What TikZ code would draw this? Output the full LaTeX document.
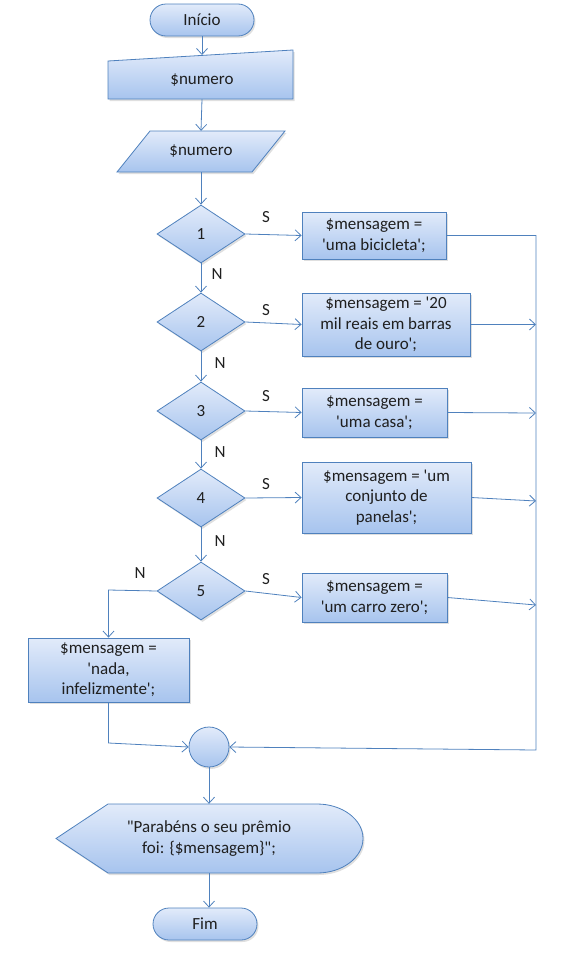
\documentclass[tikz,border=0pt]{standalone}
\usepackage{fontspec}
\newfontfamily\calfont{Carlito}
\usetikzlibrary{arrows.meta,shapes.geometric,shadows}
\definecolor{edge}{HTML}{4F81BD}
\definecolor{topc}{HTML}{E2EBFA}
\definecolor{botc}{HTML}{A7C4EE}
\definecolor{txt}{HTML}{1F1F1F}
\begin{document}
\begin{tikzpicture}[x=1pt,y=-1pt,
  every node/.style={font=\calfont\fontsize{17}{20.5}\selectfont, text=txt},
  shp/.style={draw=edge, line width=0.8pt, top color=topc, bottom color=botc,
    drop shadow={opacity=0.25,shadow xshift=1.5pt,shadow yshift=-2pt}},
  proc/.style={shp, rectangle, align=center, inner sep=0pt},
  dec/.style={shp, diamond, inner sep=0pt, minimum width=88pt, minimum height=58pt},
  term/.style={shp, rectangle, rounded corners=16pt, minimum width=104pt, minimum height=32pt, inner sep=0pt},
  ln/.style={draw=edge, line width=0.8pt},
  arr/.style={ln, -{Straight Barb[length=6pt,width=11pt]}},
  lab/.style={inner sep=0pt},
  ghost/.style={inner sep=0pt, align=center},
]
\useasboundingbox (0,0) rectangle (570,972);

% terminator
\node[term] (start) at (202,20) {Início};

% manual input
\path[shp] (108,61) -- (293,50) -- (293,99) -- (108,99) -- cycle;
\node[ghost, minimum width=185pt, minimum height=38pt] (in) at (202,80) {\$numero};
\coordinate (inTop) at (202,55);

% parallelogram
\path[shp] (150,131) -- (285,131) -- (252,172) -- (117,172) -- cycle;
\node[ghost, minimum width=100pt, minimum height=41pt] (par) at (201,151.5) {\$numero};

% decisions
\node[dec] (d1) at (201,234) {1};
\node[dec] (d2) at (201,322) {2};
\node[dec] (d3) at (201,411) {3};
\node[dec] (d4) at (201,498) {4};
\node[dec] (d5) at (201,591) {5};

% processes
\node[proc, minimum width=144pt, minimum height=47pt] (b1) at (374,235.5) {\$mensagem =\\'uma bicicleta';};
\node[proc, minimum width=168pt, minimum height=63pt] (b2) at (386,324.5) {\$mensagem = '20\\mil reais em barras\\de ouro';};
\node[proc, minimum width=145pt, minimum height=49pt] (b3) at (374.5,412.5) {\$mensagem =\\'uma casa';};
\node[proc, minimum width=169pt, minimum height=71pt] (b4) at (386.5,497.5) {\$mensagem = 'um\\conjunto de\\panelas';};
\node[proc, minimum width=145pt, minimum height=49pt] (b5) at (374.5,597.5) {\$mensagem =\\'um carro zero';};
\node[proc, minimum width=161pt, minimum height=64pt] (b6) at (108.5,670) {\$mensagem =\\'nada,\\infelizmente';};

% connector circle
\node[shp, circle, minimum size=40pt, inner sep=0pt] (c) at (209,747) {};

% display
\path[shp] (56,838.5) -- (108,804) -- (317,804) arc[start angle=-90, end angle=90, x radius=46, y radius=34.5] -- (108,873) -- cycle;
\node[ghost, minimum width=200pt, minimum height=69pt] (disp) at (209,838.5) {"Parabéns o seu prêmio\\foi: \{\$mensagem\}";};

% end
\node[term] (fim) at (205,924) {Fim};

% coordinates
\coordinate (rTop) at (536,235.5);
\coordinate (r2) at (536,324.5);
\coordinate (r3) at (536,413);
\coordinate (r4) at (536,501);
\coordinate (r5) at (536,605);
\coordinate (rBot) at (536,750);
\coordinate (lTop) at (108.5,590);
\coordinate (lBot) at (108.5,743);

% main flow
\draw[arr] (start.south) -- (inTop);
\draw[arr] (in.south) -- (par.north);
\draw[arr] (par.south) -- (d1.north);
\draw[arr] (d1.south) -- (d2.north);
\draw[arr] (d2.south) -- (d3.north);
\draw[arr] (d3.south) -- (d4.north);
\draw[arr] (d4.south) -- (d5.north);

\draw[arr] (d1.east) -- (b1.west);
\draw[arr] (d2.east) -- (b2.west);
\draw[arr] (d3.east) -- (b3.west);
\draw[arr] (d4.east) -- (b4.west);
\draw[arr] (d5.east) -- (b5.west);

\draw[arr] (b1.east) -- (rTop) -- (rBot) -- (c.east);
\draw[arr] (b2.east) -- (r2);
\draw[arr] (b3.east) -- (r3);
\draw[arr] (b4.east) -- (r4);
\draw[arr] (b5.east) -- (r5);

\draw[arr] (d5.west) -- (lTop) -- (b6.north);
\draw[arr] (b6.south) -- (lBot) -- (c.west);

\draw[arr] (c.south) -- (c.south |- disp.north);
\draw[arr] (c.south |- disp.south) -- (c.south |- fim.north);

% labels
\node[lab] (s1) at (266,217) {S};
\node[lab] (s2) at (266,310) {S};
\node[lab] (s3) at (266,396) {S};
\node[lab] (s4) at (266,484) {S};
\node[lab] (s5) at (266,579) {S};
\node[lab] (n1) at (217,274) {N};
\node[lab] (n2) at (220,363) {N};
\node[lab] (n3) at (220,452) {N};
\node[lab] (n4) at (220,541) {N};
\node[lab] (n5) at (140,573) {N};
\end{tikzpicture}
\end{document}
